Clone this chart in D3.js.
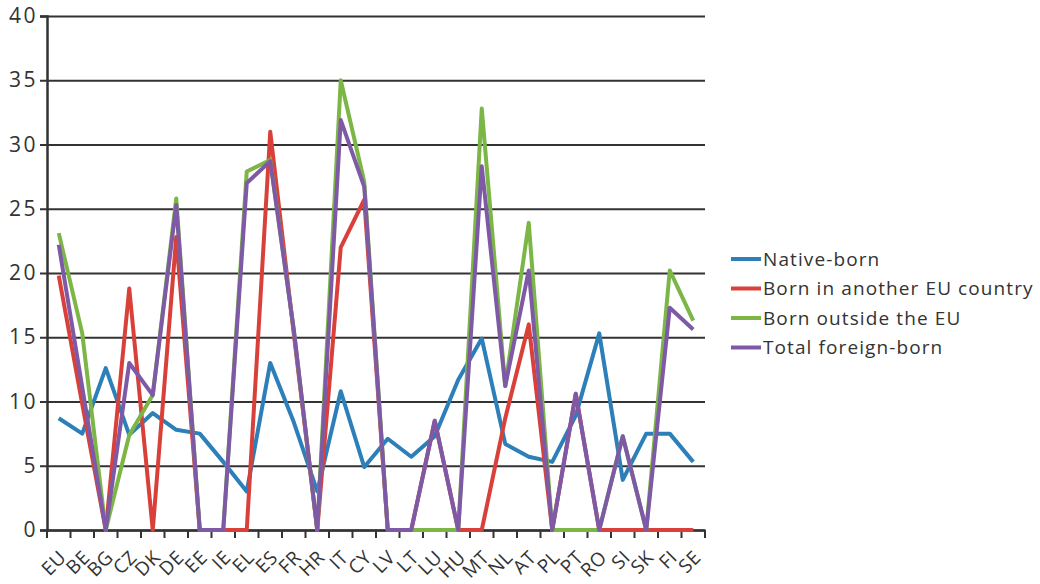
<!DOCTYPE html>
<html>
<head>
<meta charset="utf-8">
<script src="https://cdn.jsdelivr.net/npm/d3@7"></script>
<style>
  body { margin: 0; background: #fff; }
  text { font-family: "Open Sans", "Noto Sans", sans-serif; fill: #333; }
</style>
</head>
<body>
<div id="chart"></div>
<script>
const countries = ["EU", "BE", "BG", "CZ", "DK", "DE", "EE", "IE", "EL", "ES", "FR", "HR", "IT", "CY",
    "LV", "LT", "LU", "HU", "MT", "NL", "AT", "PL", "PT", "RO", "SI", "SK", "FI", "SE"];

const nativeBorn  = [8.7, 7.5, 12.6, 7.4, 9.1, 7.8, 7.5, 5.3, 3.0, 13.0, 8.4, 3.0, 10.8, 4.9,
    7.1, 5.7, 7.3, 11.7, 14.9, 6.7, 5.7, 5.3, 8.9, 15.3, 3.9, 7.5, 7.5, 5.3];
const otherEU     = [19.8, 9.8, 0, 18.8, 0, 22.8, 0, 0, 0, 31.0, 15.3, 0, 22.0, 25.7,
    0, 0, 8.5, 0, 0, 8.7, 16.0, 0, 10.6, 0, 0, 0, 0, 0];
const outsideEU   = [23.1, 15.3, 0, 7.4, 10.5, 25.8, 0, 0, 27.9, 28.8, 15.6, 0, 35.0, 27.1,
    0, 0, 0, 0, 32.8, 11.2, 23.9, 0, 0, 0, 7.3, 0, 20.2, 16.3];
const totalForeign = [22.2, 11.1, 0, 13.0, 10.5, 25.3, 0, 0, 27.0, 28.7, 15.6, 0, 31.9, 26.7,
    0, 0, 8.5, 0, 28.3, 11.2, 20.2, 0, 10.6, 0, 7.3, 0, 17.3, 15.6];

const yTicks = [0, 5, 10, 15, 20, 25, 30, 35, 40];

const series = [
    { name: "Native-born", values: nativeBorn, color: "#2c7fb8" },
    { name: "Born in another EU country", values: otherEU, color: "#d9403a" },
    { name: "Born outside the EU", values: outsideEU, color: "#7cb646" },
    { name: "Total foreign-born", values: totalForeign, color: "#7e5aa6" }
];

const margin = { top: 16, right: 335, bottom: 54, left: 47 },
    width = 1040 - margin.left - margin.right,
    height = 584 - margin.top - margin.bottom;

const svg = d3.select("#chart")
    .append("svg")
    .attr("width", 1040)
    .attr("height", 584)
    .append("g")
    .attr("transform", `translate(${margin.left},${margin.top})`);

const x = d3.scaleBand().domain(countries).range([0, width]).padding(0);
const y = d3.scaleLinear().domain([0, 40]).range([height, 0]);

// Gridlines
const grid = svg.append("g")
    .call(d3.axisLeft(y).tickValues(yTicks).tickSize(-width).tickFormat(""));
grid.select(".domain").remove();
grid.selectAll("line").attr("stroke", "#333").attr("stroke-width", 2);

// Trục Y
const yAxis = svg.append("g")
    .call(d3.axisLeft(y).tickValues(yTicks).tickSize(7).tickPadding(2));
yAxis.select(".domain").attr("stroke", "#333").attr("stroke-width", 2.5);
yAxis.selectAll("line").attr("stroke", "#333").attr("stroke-width", 2);
yAxis.selectAll("text")
    .style("font-size", "21px")
    .style("letter-spacing", "2.5px")
    .style("fill", "#333");

// Trục X
const xAxis = svg.append("g")
    .attr("transform", `translate(0,${height})`)
    .call(d3.axisBottom(x).tickSize(0));
xAxis.select(".domain").attr("stroke", "#333").attr("stroke-width", 2.5);
xAxis.selectAll("text")
    .style("font-size", "19px")
    .style("letter-spacing", "0.5px")
    .style("fill", "#333")
    .attr("text-anchor", "end")
    .attr("x", 0)
    .attr("y", 0)
    .attr("dy", "0.35em")
    .attr("transform", "translate(4,24) rotate(-45)");

// ticks at category boundaries
xAxis.selectAll(".bound")
    .data(d3.range(countries.length + 1))
    .enter()
    .append("line")
    .attr("class", "bound")
    .attr("x1", i => i * x.step())
    .attr("x2", i => i * x.step())
    .attr("y1", 0)
    .attr("y2", 8)
    .attr("stroke", "#333")
    .attr("stroke-width", 2);

// Lines
const line = d3.line()
    .x((d, i) => x(countries[i]) + x.bandwidth() / 2)
    .y(d => y(d));

svg.selectAll(".series")
    .data(series)
    .enter()
    .append("path")
    .attr("class", "series")
    .attr("d", d => line(d.values))
    .attr("fill", "none")
    .attr("stroke", d => d.color)
    .attr("stroke-width", 4)
    .attr("stroke-linejoin", "round");

// Legend
const legend = svg.append("g")
    .attr("transform", `translate(${width + 26}, 243)`);

const items = legend.selectAll(".item")
    .data(series)
    .enter()
    .append("g")
    .attr("transform", (d, i) => `translate(0, ${i * 29.5})`);

items.append("line")
    .attr("x1", 0).attr("x2", 30)
    .attr("y1", 0).attr("y2", 0)
    .attr("stroke", d => d.color)
    .attr("stroke-width", 4);

items.append("text")
    .attr("x", 32)
    .attr("y", 0)
    .attr("dy", "0.35em")
    .style("font-size", "19px")
    .style("letter-spacing", "1.1px")
    .style("fill", "#333")
    .text(d => d.name);
</script>
</body>
</html>
